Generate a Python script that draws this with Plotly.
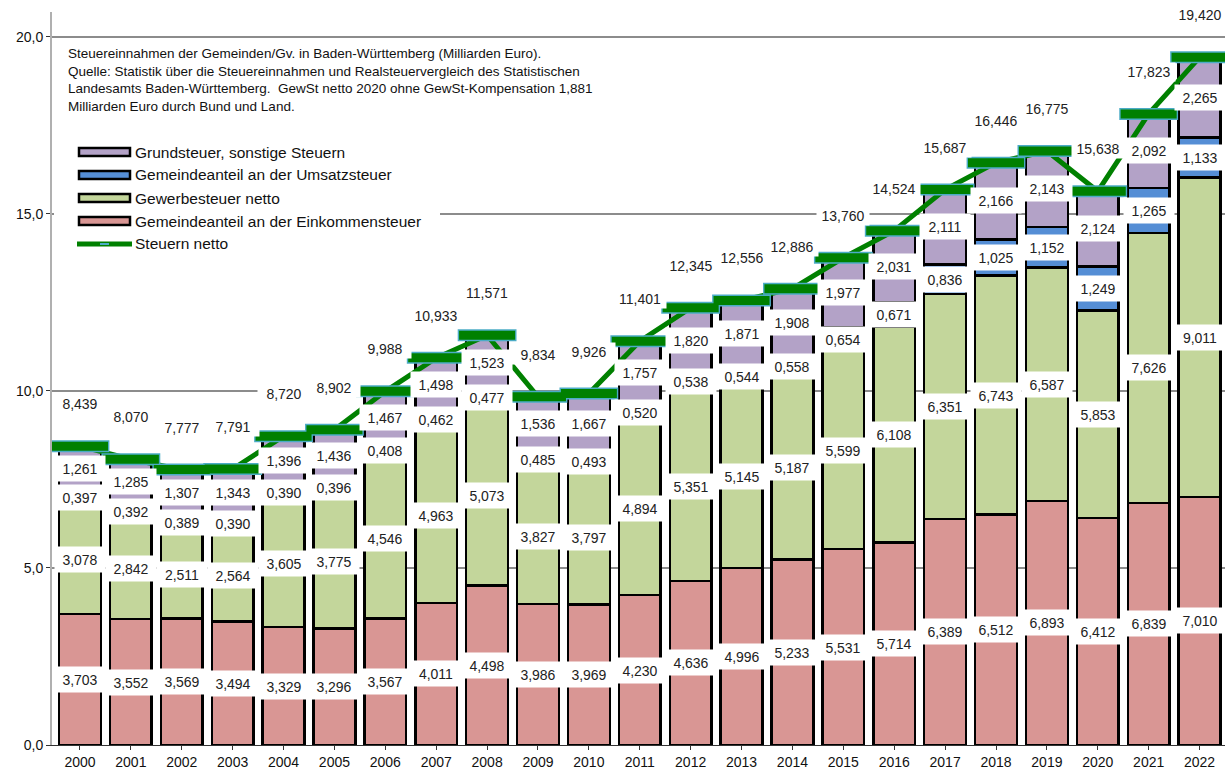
import plotly.graph_objects as go

years = [str(y) for y in range(2000, 2023)]
einkommen = [3.703, 3.552, 3.569, 3.494, 3.329, 3.296, 3.567, 4.011, 4.498, 3.986, 3.969, 4.230,
             4.636, 4.996, 5.233, 5.531, 5.714, 6.389, 6.512, 6.893, 6.412, 6.839, 7.010]
gewerbe = [3.078, 2.842, 2.511, 2.564, 3.605, 3.775, 4.546, 4.963, 5.073, 3.827, 3.797, 4.894,
           5.351, 5.145, 5.187, 5.599, 6.108, 6.351, 6.743, 6.587, 5.853, 7.626, 9.011]
umsatz = [0.397, 0.392, 0.389, 0.390, 0.390, 0.396, 0.408, 0.462, 0.477, 0.485, 0.493, 0.520,
          0.538, 0.544, 0.558, 0.654, 0.671, 0.836, 1.025, 1.152, 1.249, 1.265, 1.133]
grund = [1.261, 1.285, 1.307, 1.343, 1.396, 1.436, 1.467, 1.498, 1.523, 1.536, 1.667, 1.757,
         1.820, 1.871, 1.908, 1.977, 2.031, 2.111, 2.166, 2.143, 2.124, 2.092, 2.265]
netto = [8.439, 8.070, 7.777, 7.791, 8.720, 8.902, 9.988, 10.933, 11.571, 9.834, 9.926, 11.401,
         12.345, 12.556, 12.886, 13.760, 14.524, 15.687, 16.446, 16.775, 15.638, 17.823, 19.420]

series = [
    ("Gemeindeanteil an der Einkommensteuer", einkommen, "#D99694"),
    ("Gewerbesteuer netto", gewerbe, "#C3D69B"),
    ("Gemeindeanteil an der Umsatzsteuer", umsatz, "#558ED5"),
    ("Grundsteuer, sonstige Steuern", grund, "#B3A2C7"),
]

def fmt(v):
    return f"{v:.3f}".replace(".", ",")

FONT = "Liberation Sans, Arial, sans-serif"
W, H = 1232, 771
ML, MR, MT, MB = 52, 7, 12, 26
PW, PH = W - ML - MR, H - MT - MB

def px_x(px):
    return (px - ML) / PW

def px_y(py):
    return (H - MB - py) / PH

idx = list(range(len(years)))
fig = go.Figure()
annotations = []
shapes = []
base = [0.0] * len(years)
for name, vals, color in series:
    fig.add_trace(go.Bar(
        x=idx, y=vals, name=name, showlegend=False,
        marker=dict(color=color, line=dict(color="black", width=2.5)),
        width=0.82,
    ))
    for i, v in enumerate(vals):
        annotations.append(dict(
            x=i, y=base[i] + v / 2, xref="x", yref="y", text=fmt(v),
            showarrow=False, bgcolor="white", width=48, height=23,
            font=dict(family=FONT, size=14, color="#222"),
        ))
        base[i] += v

fig.add_trace(go.Scatter(
    x=idx, y=netto, mode="lines", name="Steuern netto", showlegend=False,
    line=dict(color="#008000", width=5),
))
fig.add_trace(go.Scatter(
    x=idx, y=netto, mode="markers", showlegend=False, hoverinfo="skip",
    marker=dict(symbol="line-ew", size=42, line=dict(color="#4BACC6", width=12)),
))
fig.add_trace(go.Scatter(
    x=idx, y=netto, mode="markers", showlegend=False,
    marker=dict(symbol="line-ew", size=40, line=dict(color="#008000", width=9)),
))

for i, v in enumerate(netto):
    annotations.append(dict(
        x=i, y=v, xref="x", yref="y", text=fmt(v), yshift=42, width=50,
        showarrow=False, bgcolor="white",
        font=dict(family=FONT, size=14, color="#222"),
    ))

# source text box
annotations.append(dict(
    x=px_x(66), y=px_y(44), xref="paper", yref="paper", xanchor="left", yanchor="top",
    align="left", showarrow=False, bgcolor="white",
    text=("Steuereinnahmen der Gemeinden/Gv. in Baden-Württemberg (Milliarden Euro).<br>"
          "Quelle: Statistik über die Steuereinnahmen und Realsteuervergleich des Statistischen<br>"
          "Landesamts Baden-Württemberg.  GewSt netto 2020 ohne GewSt-Kompensation 1,881<br>"
          "Milliarden Euro durch Bund und Land."),
    font=dict(family=FONT, size=13.5, color="#111"),
))

# custom legend (layout only)
shapes.append(dict(type="rect", xref="paper", yref="paper", layer="above",
                   x0=px_x(54), x1=px_x(440), y0=px_y(255), y1=px_y(140),
                   fillcolor="white", line=dict(width=0)))
legend_items = [(s[0], s[2]) for s in reversed(series)]
for k, (name, color) in enumerate(legend_items):
    cy = 152 + 23 * k
    shapes.append(dict(type="rect", xref="paper", yref="paper", layer="above",
                       x0=px_x(79), x1=px_x(130), y0=px_y(cy + 4), y1=px_y(cy - 4),
                       fillcolor=color, line=dict(color="black", width=2.5)))
    annotations.append(dict(x=px_x(133), y=px_y(cy), xref="paper", yref="paper",
                            xanchor="left", yanchor="middle", showarrow=False, text=name,
                            font=dict(family=FONT, size=15.5, color="#111")))
cy = 152 + 23 * 4
shapes.append(dict(type="line", xref="paper", yref="paper", layer="above",
                   x0=px_x(77), x1=px_x(132), y0=px_y(cy), y1=px_y(cy),
                   line=dict(color="#008000", width=5)))
shapes.append(dict(type="line", xref="paper", yref="paper", layer="above",
                   x0=px_x(100), x1=px_x(109), y0=px_y(cy), y1=px_y(cy),
                   line=dict(color="#4BACC6", width=2)))
annotations.append(dict(x=px_x(133), y=px_y(cy), xref="paper", yref="paper",
                        xanchor="left", yanchor="middle", showarrow=False, text="Steuern netto",
                        font=dict(family=FONT, size=15.5, color="#111")))

fig.update_layout(
    width=W, height=H,
    margin=dict(l=ML, r=MR, t=MT, b=MB),
    barmode="stack",
    plot_bgcolor="white", paper_bgcolor="white",
    separators=",.",
    font=dict(family=FONT, size=14, color="#111"),
    annotations=annotations,
    shapes=shapes,
    showlegend=False,
    hovermode=False,
    xaxis=dict(
        range=[-0.55, 22.5], showgrid=False, automargin=False,
        tickvals=idx, ticktext=years,
        ticks="outside", ticklen=4, tickcolor="#333",
        showline=True, linecolor="#333", linewidth=1, zeroline=False,
        tickfont=dict(family=FONT, size=14, color="#111"),
    ),
    yaxis=dict(
        range=[0, 20.7], tickvals=[0, 5, 10, 15, 20], tickformat=".1f",
        showgrid=True, gridcolor="#8c8c8c", gridwidth=2, automargin=False,
        showline=True, linecolor="#b0b0b0", linewidth=2,
        ticks="outside", ticklen=4, tickcolor="#333",
        tickfont=dict(family=FONT, size=14, color="#111"),
        zeroline=False,
    ),
)

fig.write_html(
    "out.html",
    config={"displayModeBar": False},
    post_script="document.body.style.margin='0';document.body.style.overflow='hidden';",
)
